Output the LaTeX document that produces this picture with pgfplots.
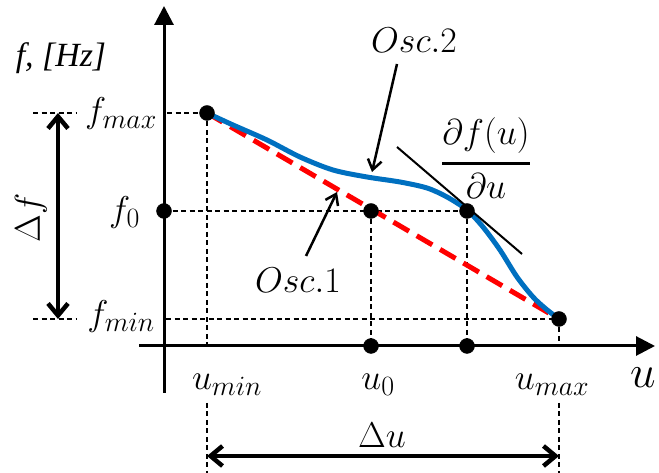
\RequirePackage{fix-cm}
\documentclass[border=0pt]{standalone}
\usepackage{amsmath}
\usepackage{fontspec}
\setmainfont{Liberation Serif}
\usepackage{pgfplots}
\pgfplotsset{compat=1.18}
\usetikzlibrary{arrows.meta}
\definecolor{oscblue}{RGB}{0,112,192}
\definecolor{oscred}{RGB}{255,0,0}
\DeclareMathSizes{36}{36}{28}{20}
\newcommand\lbl{\fontsize{36}{43}\selectfont}

\begin{document}
\begin{tikzpicture}
\begin{axis}[
    x=1bp, y=1bp,
    xmin=-164, xmax=495, ymin=-127, ymax=346,
    hide axis, clip=false,
    guide/.style={black, line width=1.2bp, dash pattern=on 5bp off 3.5bp},
    dot/.style={black, only marks, mark=*, mark size=7.5bp},
]
    % helper lines
    \addplot[guide] coordinates {(-131,233) (-87,233)};
    \addplot[guide] coordinates {(3,233) (43,233)};
    \addplot[guide] coordinates {(0,135) (303,135)};
    \addplot[guide] coordinates {(-131,27) (-87,27)};
    \addplot[guide] coordinates {(2,27) (395,27)};
    \addplot[guide] coordinates {(43,233) (43,0)};
    \addplot[guide] coordinates {(43,-57) (43,-127)};
    \addplot[guide] coordinates {(395,27) (395,0)};
    \addplot[guide] coordinates {(395,-57) (395,-127)};
    \addplot[guide] coordinates {(207,135) (207,0)};
    \addplot[guide] coordinates {(303,135) (303,0)};

    % axes
    \addplot[black, line width=3bp, -{Triangle[length=19bp,width=19bp]}] coordinates {(-25,0) (491,0)};
    \addplot[black, line width=3bp, -{Triangle[length=19bp,width=19bp]}] coordinates {(0,-47) (0,340)};

    % Osc. 1 (linear) and Osc. 2
    \addplot[oscred, line width=5bp, dash pattern=on 18bp off 9bp] coordinates {(43,233) (395,27)};
    \addplot[oscblue, line width=5bp, smooth, tension=0.5] coordinates {
        (43,233) (69,221) (103,206) (136,189) (169,176) (203,169) (236,164)
        (263,158) (283,149) (303,136) (319,119) (336,96) (353,69) (369,49)
        (382,37) (395,27)};

    % tangent
    \addplot[black, line width=2bp] coordinates {(233,199) (358,92)};

    % pointers
    \addplot[black, line width=2.5bp, -{Straight Barb[length=10bp,width=14bp]}] coordinates {(233,282) (208,174)};
    \addplot[black, line width=2.5bp, -{Straight Barb[length=10bp,width=14bp]}] coordinates {(142,90) (173,154)};

    % ranges
    \addplot[black, line width=4.5bp, {Straight Barb[length=12bp,width=20bp]}-{Straight Barb[length=12bp,width=20bp]}] coordinates {(-106,233) (-106,27)};
    \addplot[black, line width=4.5bp, {Straight Barb[length=12bp,width=20bp]}-{Straight Barb[length=12bp,width=20bp]}] coordinates {(43,-110) (395,-110)};

    % points
    \addplot[dot] coordinates {(43,233) (207,135) (303,135) (395,27) (0,135) (207,0) (303,0)};

    % labels
    \node[anchor=east, inner sep=0pt] at (axis cs:-7,232) {\lbl$f_{max}$};
    \node[anchor=east, inner sep=0pt] at (axis cs:-24,133) {\lbl$f_0$};
    \node[anchor=east, inner sep=0pt] at (axis cs:-9,29) {\lbl$f_{min}$};
    \node[anchor=base, inner sep=0pt] at (axis cs:63,-44) {\lbl$u_{min}$};
    \node[anchor=base, inner sep=0pt] at (axis cs:214,-44) {\lbl$u_0$};
    \node[anchor=base, inner sep=0pt] at (axis cs:388,-44) {\lbl$u_{max}$};
    \node[anchor=base west, inner sep=0pt] at (axis cs:466,-42) {\fontsize{46}{54}\selectfont$u$};
    \node[anchor=base, inner sep=0pt] at (axis cs:218,-102) {\lbl$\Delta u$};
    \node[rotate=90, inner sep=0pt] at (axis cs:-133,128) {\lbl$\Delta f$};
    \node[inner sep=0pt] at (axis cs:250,306) {\lbl$Osc.2$};
    \node[inner sep=0pt] at (axis cs:134,66) {\lbl$Osc.1$};
    \node[inner sep=0pt] at (axis cs:322,188) {\lbl$\displaystyle\genfrac{}{}{3bp}{}{\partial f(u)}{\partial u}$};
    \node[inner sep=0pt] at (axis cs:-103,288) {\fontsize{34}{40}\selectfont\itshape f, [Hz]};

    \coordinate (bl) at (axis cs:-164,-127);
    \coordinate (tr) at (axis cs:495,346);
\end{axis}
\pgfresetboundingbox
\path[use as bounding box] (bl) rectangle (tr);
\end{tikzpicture}
\end{document}
